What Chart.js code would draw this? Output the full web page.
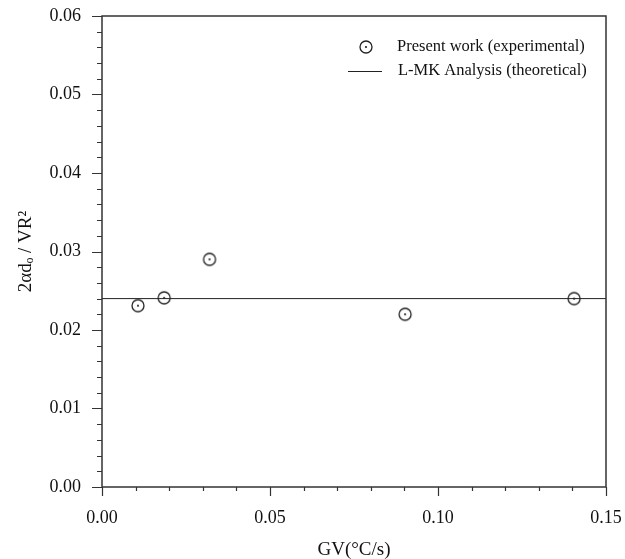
<!DOCTYPE html>
<html>
<head>
<meta charset="utf-8">
<script src="https://cdn.jsdelivr.net/npm/chart.js@4"></script>
<style>
  html, body { margin: 0; padding: 0; background: #fff; }
  #wrap { width: 625px; height: 559px; }
</style>
</head>
<body>
<div id="wrap"><canvas id="gvChart" width="625" height="559"></canvas></div>
<script>
// valori
const gvValues = [0.0107, 0.0185, 0.0320, 0.0902, 0.1405];
const ratioValues = [0.0231, 0.0241, 0.0290, 0.0220, 0.0240];
const theoryX = [0, 0.15];
const theoryY = [0.024, 0.024];
const xTicks = [0, 0.05, 0.10, 0.15];
const yTicks = [0, 0.01, 0.02, 0.03, 0.04, 0.05, 0.06];
const xMinorStep = 0.01;
const yMinorStep = 0.002;
const legendLabels = ['Present work (experimental)', 'L-MK Analysis (theoretical)'];

const axisColor = '#333';
const serif = "'Liberation Serif', 'Times New Roman', serif";

// marcatore: cerchio con punto centrale
function makeMarker() {
    const c = document.createElement('canvas');
    c.width = 16; c.height = 16;
    const g = c.getContext('2d');
    g.strokeStyle = '#222';
    g.lineWidth = 1.3;
    g.beginPath();
    g.arc(8, 8, 6, 0, Math.PI * 2);
    g.stroke();
    g.fillStyle = '#222';
    g.beginPath();
    g.arc(8, 8, 1.1, 0, Math.PI * 2);
    g.fill();
    return c;
}
const marker = makeMarker();

// riquadro, tacche minori e legenda
const framePlugin = {
    id: 'frame',
    afterDraw(chart) {
        const {ctx, chartArea: a, scales} = chart;
        ctx.save();
        ctx.strokeStyle = axisColor;
        ctx.lineWidth = 1.5;
        ctx.strokeRect(a.left, a.top, a.right - a.left, a.bottom - a.top);

        ctx.lineWidth = 1.2;
        ctx.beginPath();
        const xs = scales.x;
        for (let i = 0; i <= Math.round(0.15 / xMinorStep); i++) {
            const v = i * xMinorStep;
            const px = Math.round(xs.getPixelForValue(v)) + 0.5;
            const len = (i % 5 === 0) ? 9 : 4;
            ctx.moveTo(px, a.bottom);
            ctx.lineTo(px, a.bottom + len);
        }
        const ys = scales.y;
        for (let i = 0; i <= Math.round(0.06 / yMinorStep); i++) {
            const v = i * yMinorStep;
            const py = Math.round(ys.getPixelForValue(v)) + 0.5;
            const len = (i % 5 === 0) ? 10 : 5;
            ctx.moveTo(a.left, py);
            ctx.lineTo(a.left - len, py);
        }
        ctx.stroke();

        // legenda
        ctx.font = '16.5px ' + serif;
        ctx.fillStyle = '#111';
        ctx.textBaseline = 'middle';
        ctx.textAlign = 'left';
        ctx.drawImage(marker, 366 - 8, 47 - 8);
        ctx.fillText(legendLabels[0], 397, 47);
        ctx.strokeStyle = '#222';
        ctx.lineWidth = 1;
        ctx.beginPath();
        ctx.moveTo(348, 71.5);
        ctx.lineTo(382, 71.5);
        ctx.stroke();
        ctx.fillText(legendLabels[1], 398, 71);
        ctx.restore();
    }
};

const ctx = document.getElementById('gvChart').getContext('2d');
const gvChart = new Chart(ctx, {
    type: 'scatter',
    data: {
        datasets: [{
            type: 'line',
            label: legendLabels[1],
            data: theoryX.map((x, i) => ({x: x, y: theoryY[i]})),
            borderColor: '#222',
            borderWidth: 1,
            pointRadius: 0,
            fill: false
        }, {
            label: legendLabels[0],
            data: gvValues.map((x, i) => ({x: x, y: ratioValues[i]})),
            pointStyle: marker,
            pointRadius: 6
        }]
    },
    options: {
        responsive: false,
        animation: false,
        layout: { padding: { left: 0, top: 16, right: 19, bottom: 0 } },
        plugins: {
            legend: { display: false },
            tooltip: { enabled: false }
        },
        scales: {
            x: {
                type: 'linear',
                min: 0,
                max: 0.15,
                afterBuildTicks: (s) => { s.ticks = xTicks.map(v => ({value: v})); },
                afterFit: (s) => {
                    s.height = 72;
                    s.paddingLeft = 0;
                    s.paddingRight = 0;
                },
                grid: { display: false },
                border: { display: false },
                ticks: {
                    padding: 12,
                    color: '#111',
                    font: { family: serif, size: 18 },
                    callback: (v) => Number(v).toFixed(2)
                },
                title: {
                    display: true,
                    text: 'GV(\u00B0C/s)',
                    color: '#111',
                    font: { family: serif, size: 19 },
                    padding: { top: 0, bottom: -2 }
                }
            },
            y: {
                type: 'linear',
                min: 0,
                max: 0.06,
                afterBuildTicks: (s) => { s.ticks = yTicks.map(v => ({value: v})); },
                afterFit: (s) => {
                    s.width = 102;
                    s.paddingTop = 0;
                    s.paddingBottom = 0;
                },
                grid: { display: false },
                border: { display: false },
                ticks: {
                    padding: 13,
                    color: '#111',
                    font: { family: serif, size: 18 },
                    callback: (v) => Number(v).toFixed(2)
                },
                title: {
                    display: true,
                    text: '2\u03B1d\u2092 / VR\u00B2',
                    color: '#111',
                    font: { family: serif, size: 19 },
                    padding: { top: 15, bottom: 0 }
                }
            }
        }
    },
    plugins: [framePlugin]
});
</script>
</body>
</html>
